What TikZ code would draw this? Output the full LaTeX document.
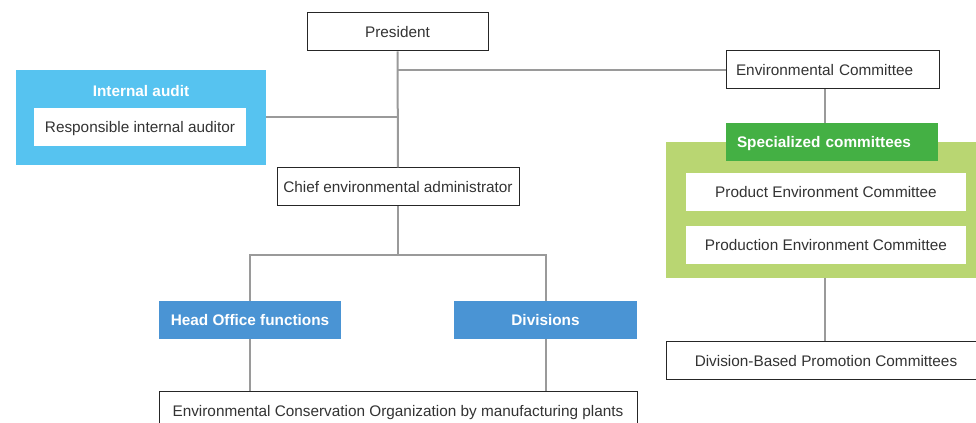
\documentclass[tikz,border=0pt]{standalone}
\usepackage{fontspec}
\setmainfont{Liberation Sans}
\usepackage{xcolor}
\usepackage{tikz}
\usetikzlibrary{positioning, calc}
\definecolor{auditblue}{HTML}{56C3F0}
\definecolor{orgblue}{HTML}{4A94D4}
\definecolor{specgreen}{HTML}{44B044}
\definecolor{palegreen}{HTML}{B9D672}
\definecolor{linegray}{HTML}{9A9A9A}
\definecolor{txtgray}{HTML}{333333}

\begin{document}
\begin{tikzpicture}[x=0.75pt, y=-0.75pt,
  every node/.style={text height=9pt, text depth=0pt},
  box/.style={draw=black!85, line width=0.75pt, fill=white, text=txtgray,
    minimum height=28.5pt, inner sep=0pt, font=\fontsize{11.5}{13}\selectfont},
  plainbox/.style={fill=white, text=txtgray, minimum height=28.5pt,
    inner sep=0pt, font=\fontsize{11.5}{13}\selectfont},
  headbox/.style={fill=#1, text=white, minimum height=28.5pt, inner sep=0pt,
    font=\fontsize{11.5}{13}\selectfont\bfseries},
  link/.style={draw=linegray, line width=1.5pt}]
\clip (0,0) rectangle (976,423);
\useasboundingbox (0,0) rectangle (976,423);

% top of the chart
\node[box, minimum width=135.75pt] (pres) at (397.5,32) {President};
\node[box, minimum width=159.75pt, text width=144.75pt, inner xsep=7.5pt,
  align=left] (envc) at (832.5,70) {Environmental Committee};
\node[box, minimum width=181.5pt] (chief) at (398,187) {Chief environmental administrator};

% internal audit group
\node[fill=auditblue, minimum width=187.5pt, minimum height=71.25pt,
  inner sep=0pt] (audit) at (141,117.5) {};
\node[text=white, font=\fontsize{11.5}{13}\selectfont\bfseries] (audittitle)
  at (141,91) {Internal audit};
\node[plainbox, minimum width=159pt] (auditor) at (140,127) {Responsible internal auditor};

% specialized committees group
\node[fill=palegreen, minimum width=240pt, minimum height=102pt,
  inner sep=0pt] (specbg) at (826,210) {};
\node[headbox=specgreen, minimum width=159pt, text width=142.5pt,
  inner xsep=8.25pt, align=left] (spec) at (832,142) {Specialized committees};
\node[plainbox, minimum width=210pt] (prod) at (826,192) {Product Environment Committee};
\node[plainbox, minimum width=210pt] (prodn) at (826,245) {Production Environment Committee};
\node[box, minimum width=240pt] (divbased) at (826,361) {Division-Based Promotion Committees};

% lower branches
\node[headbox=orgblue, minimum width=136.5pt] (head) at (250,320) {Head Office functions};
\node[headbox=orgblue, minimum width=137.25pt] (divs) at (545.5,320) {Divisions};
\node[box, minimum width=358.5pt] (plants) at (398,411)
  {Environmental Conservation Organization by manufacturing plants};

% connectors
\coordinate (fork) at (398,255);
\coordinate (cx) at (825,0);
\draw[link] (pres) -- (chief);
\draw[link] (pres.south |- envc.west) -- (envc);
\draw[link] (audit.east) -- (audit.east -| pres.south);
\draw[link] (chief) -- (fork);
\draw[link] (head) |- (fork) -| (divs);
\draw[link] (head) -- (head |- plants.north);
\draw[link] (divs) -- (divs |- plants.north);
\draw[link] (envc.south -| cx) -- (spec.north -| cx);
\draw[link] (specbg.south -| cx) -- (divbased.north -| cx);
\end{tikzpicture}
\end{document}
